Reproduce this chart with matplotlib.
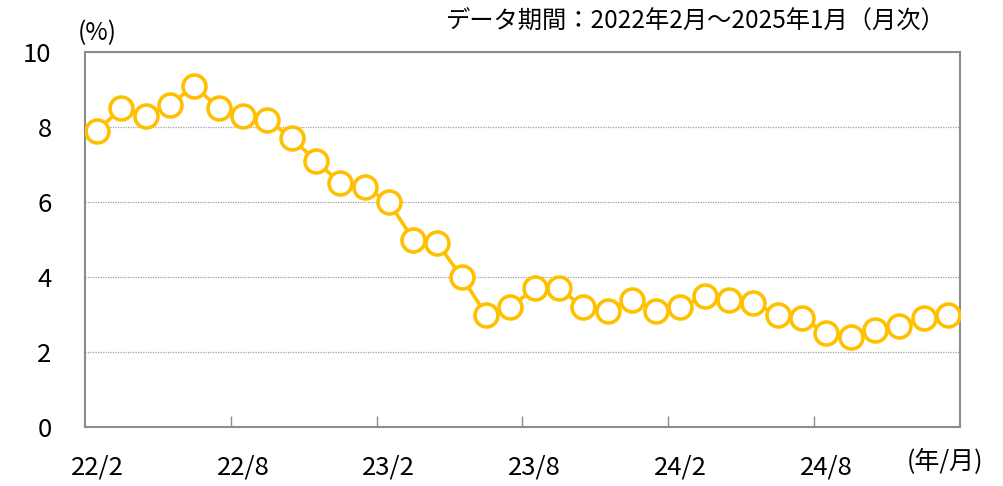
import matplotlib.pyplot as plt
from matplotlib.ticker import FixedLocator

plt.rcParams['font.family'] = ['Noto Sans CJK JP', 'DejaVu Sans']

# monthly values, 2022/2 - 2025/1
months = list(range(36))
values = [7.9, 8.5, 8.3, 8.6, 9.1, 8.5, 8.3, 8.2, 7.7, 7.1, 6.5, 6.4,
          6.0, 5.0, 4.9, 4.0, 3.0, 3.2, 3.7, 3.7, 3.2, 3.1, 3.4, 3.1,
          3.2, 3.5, 3.4, 3.3, 3.0, 2.9, 2.5, 2.4, 2.6, 2.7, 2.9, 3.0]
tick_pos = [0, 6, 12, 18, 24, 30]
tick_labels = ['22/2', '22/8', '23/2', '23/8', '24/2', '24/8']
yticks = [0, 2, 4, 6, 8, 10]

COLOR = '#FFC000'
GRAY = '#8c8c8c'

fig = plt.figure(figsize=(10.04, 4.86), dpi=100)
ax = fig.add_axes([85 / 1004, 1 - 427 / 486, 875 / 1004, 375 / 486])

ax.plot(months, values, color=COLOR, lw=2.6, marker='o', ms=16.5,
        mfc='white', mec=COLOR, mew=2.6, zorder=3)

ax.set_xlim(-0.5, 35.5)
ax.set_ylim(0, 10)
ax.set_yticks(yticks)
ax.set_yticklabels([str(v) for v in yticks], fontsize=18.5)
ax.yaxis.grid(True, color='#a0a0a0', ls=(0, (1, 1)), lw=0.9)
ax.tick_params(axis='y', length=0, pad=24)

ax.set_xticks(tick_pos)
ax.set_xticklabels(tick_labels, fontsize=18.5)
ax.tick_params(axis='x', which='major', length=0, pad=20)
ax.xaxis.set_minor_locator(FixedLocator([5.5, 11.5, 17.5, 23.5, 29.5]))
ax.tick_params(axis='x', which='minor', direction='in', length=8,
               color=GRAY, width=1)

for s in ax.spines.values():
    s.set_color(GRAY)
    s.set_linewidth(1.5)

fig.text(97 / 1004, 1 - 33 / 486, '(%)', fontsize=17.5, ha='center', va='center')
fig.text(946 / 1004, 1 - 22 / 486, 'データ期間：2022年2月～2025年1月（月次）',
         fontsize=17.5, ha='right', va='center')
fig.text(945 / 1004, 1 - 462 / 486, '(年/月)', fontsize=18, ha='center', va='center')

fig.savefig('out.png', dpi=100)
